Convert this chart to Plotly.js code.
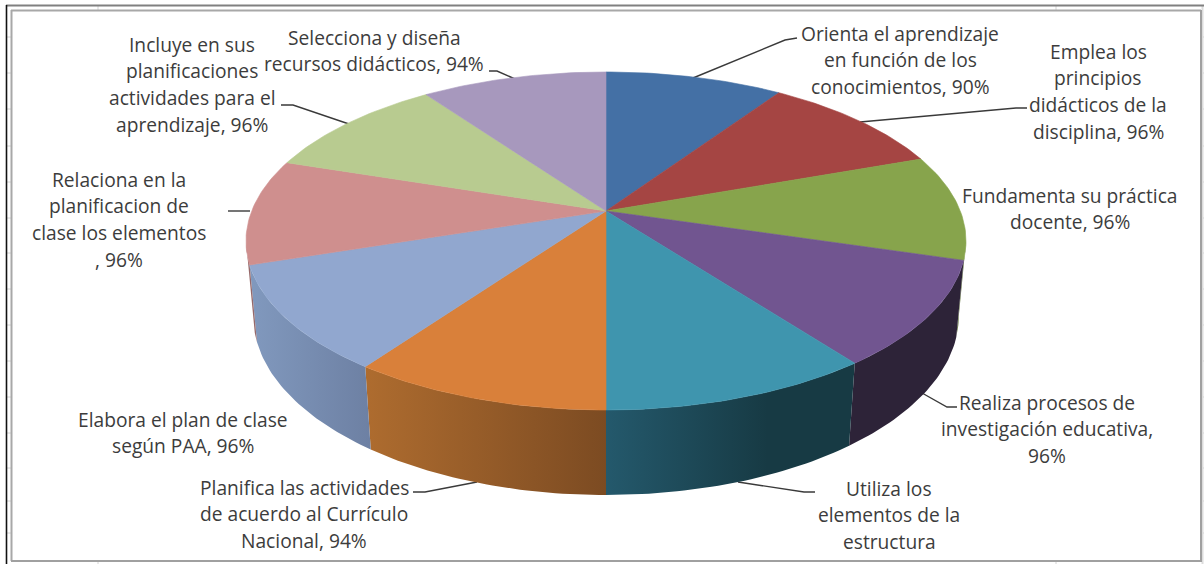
<!DOCTYPE html>
<html>
<head>
<meta charset="utf-8">
<script src="https://cdn.plot.ly/plotly-3.0.1.min.js"></script>
<style>html,body{margin:0;padding:0;background:#fff;overflow:hidden}#chart{width:1204px;height:564px}</style>
</head>
<body>
<div id="chart"></div>
<script>
// Competencias docentes: share of each item, clockwise from twelve o'clock.
const categories = [
  "Orienta el aprendizaje en función de los conocimientos",
  "Emplea los principios didácticos de la disciplina",
  "Fundamenta su práctica docente",
  "Realiza procesos de investigación educativa",
  "Utiliza los elementos de la estructura",
  "Planifica las actividades de acuerdo al Currículo Nacional",
  "Elabora el plan de clase según PAA",
  "Relaciona en la planificacion de clase los elementos",
  "Incluye en sus planificaciones actividades para el aprendizaje",
  "Selecciona y diseña recursos didácticos"
];
const values = [90, 96, 96, 96, 98, 94, 96, 96, 96, 94];

const faceColors = ["#4470A5","#A54543","#87A44C","#715590","#3F95AE","#D9803A","#91A7CF","#CF8F8E","#B8CB90","#A798BD"];
const wallLeft   = ["#2E4B6E","#6E2E2D","#5A6E33","#2D2338","#24596C","#AE6C2F","#8199BE","#96696A","#7B8860","#70657E"];
const wallRight  = ["#2E4B6E","#6E2E2D","#5A6E33","#2D2338","#173A44","#7C4B22","#6D80A3","#96696A","#7B8860","#70657E"];
const wallFade   = [1, 1, 1, 1, 0.65, 1, 1, 1, 1, 1];

// Label text, one entry per printed line, with the centre of each block's first line.
const labelLines = [
  ["Orienta el aprendizaje","en función de los","conocimientos, 90%"],
  ["Emplea los","principios","didácticos de la","disciplina, 96%"],
  ["Fundamenta su práctica","docente, 96%"],
  ["Realiza procesos de","investigación educativa,","96%"],
  ["Utiliza los","elementos de la","estructura"],
  ["Planifica las actividades","de acuerdo al Currículo","Nacional, 94%"],
  ["Elabora el plan de clase","según PAA, 96%"],
  ["Relaciona en la","planificacion de","clase los elementos",", 96%"],
  ["Incluye en sus","planificaciones","actividades para el","aprendizaje, 96%"],
  ["Selecciona y diseña","recursos didácticos, 94%"]
];
const labelX = [900, 1098, 1070, 1047, 889, 304, 183, 119, 192, 374];
const labelY = [33, 51, 195, 402, 488, 487, 419, 179, 44, 37];
const lineGap = 26.8;

// Leader lines from the rim of a slice to its label.
const leaderPaths = [
  [[693,78],[785,40],[797,38]],
  [[860,122],[1016,108],[1027,108]],
  [[922,393],[947,407],[957,407]],
  [[738,482],[804,492],[815,492]],
  [[477,482],[425,492],[413,492]],
  [[250,211],[228,211]],
  [[349,124],[293,105],[281,105]],
  [[515,79],[497,71],[489,71]]
];

// Perspective projection of the tilted disc onto the page.
const cx = 606, cy = 211, ax = 354.3, by = 163.7, persp = 0.1775;
const depth = 75.6, depthPersp = 0.02;
const rimTop = t => {
  const X = Math.sin(t), Y = Math.cos(t), w = 1 + persp * Y;
  return [cx + ax * X / w, cy - by * Y / w];
};
const rimBottom = t => {
  const X = Math.sin(t), Y = Math.cos(t), w = 1 + persp * Y + depthPersp;
  return [cx + ax * X / w, cy + (depth - by * Y) / w];
};
const arc = (from, to, fn) => {
  const n = Math.max(2, Math.ceil(Math.abs(to - from) / (Math.PI / 180)));
  return Array.from({length: n + 1}, (_, i) => fn(from + (to - from) * i / n));
};

const total = values.reduce((a, b) => a + b, 0);
const walls = [], faces = [];
const visibleFrom = Math.acos(-persp), visibleTo = 2 * Math.PI - visibleFrom;
let start = 0;
values.forEach((v, i) => {
  const end = start + v / total * 2 * Math.PI;
  const a = Math.max(start, visibleFrom), b = Math.min(end, visibleTo);
  if (b > a) {
    const pts = arc(a, b, rimTop).concat(arc(b, a, rimBottom));
    pts.push(pts[0]);
    const stops = [[0, wallLeft[i]], [wallFade[i], wallRight[i]]];
    if (wallFade[i] < 1) stops.push([1, wallRight[i]]);
    walls.push({
      type: "scatter", mode: "lines", fill: "toself", hoverinfo: "skip", showlegend: false,
      x: pts.map(p => p[0]), y: pts.map(p => p[1]),
      line: {width: 0, color: wallLeft[i]},
      fillgradient: {type: "horizontal", colorscale: stops}
    });
  }
  const face = [[cx, cy]].concat(arc(start, end, rimTop));
  face.push([cx, cy]);
  faces.push({
    type: "scatter", mode: "lines", fill: "toself", fillcolor: faceColors[i],
    x: face.map(p => p[0]), y: face.map(p => p[1]),
    line: {width: 0.6, color: faceColors[i]},
    name: categories[i], text: `${categories[i]}: ${v}%`, hoverinfo: "text", hoveron: "fills", showlegend: false
  });
  start = end;
});

const leaders = leaderPaths.map(p => ({
  type: "scatter", mode: "lines", hoverinfo: "skip", showlegend: false,
  x: p.map(q => q[0]), y: p.map(q => q[1]),
  line: {color: "#3a3a3a", width: 1.4}
}));

const annotations = [];
labelLines.forEach((lines, i) => lines.forEach((t, j) => annotations.push({
  xref: "x", yref: "y", x: labelX[i], y: labelY[i] + j * lineGap, text: t,
  showarrow: false, xanchor: "center", yanchor: "middle",
  font: {family: "'Open Sans', sans-serif", size: 19.2, color: "#3c3c3c"}
})));

// Worksheet edge behind the chart: gridline stubs and the chart frame.
const stubY = [37,73,109,146,182,218,253,289,325,361,397,433,468,501,533];
const stubX = [98, 1056];
const rule = (x0, y0, x1, y1, color, width) =>
  ({type: "line", layer: "below", xref: "x", yref: "y", x0, y0, x1, y1, line: {color, width}});
const shapes = [
  ...stubY.map(y => rule(6, y, 11, y, "#d4d4d4", 1)),
  ...stubY.map(y => rule(1203, y, 1204, y, "#cfcfcf", 1)),
  ...stubX.map(x => rule(x, 6, x, 10, "#d4d4d4", 1)),
  ...stubX.map(x => rule(x, 561, x, 564, "#d4d4d4", 1)),
  rule(1202.5, 6, 1202.5, 564, "#dcdcdc", 2),
  rule(6, 5.5, 1204, 5.5, "#808080", 2),
  rule(6.5, 5, 6.5, 564, "#111111", 1.6),
  rule(11.5, 10, 11.5, 561, "#a8a8a8", 2),
  rule(11, 10.5, 1201, 10.5, "#a8a8a8", 2),
  rule(1201, 10, 1201, 562, "#a0a0a0", 2),
  rule(11, 561, 1201, 561, "#a0a0a0", 2)
];

const hidden = {visible: false, fixedrange: true};
Plotly.newPlot("chart", [...leaders, ...walls, ...faces], {
  width: 1204, height: 564, margin: {l: 0, r: 0, t: 0, b: 0},
  paper_bgcolor: "#ffffff", plot_bgcolor: "#ffffff", showlegend: false,
  xaxis: {...hidden, range: [0, 1204]},
  yaxis: {...hidden, range: [564, 0]},
  annotations, shapes
}, {displayModeBar: false});
</script>
</body>
</html>
